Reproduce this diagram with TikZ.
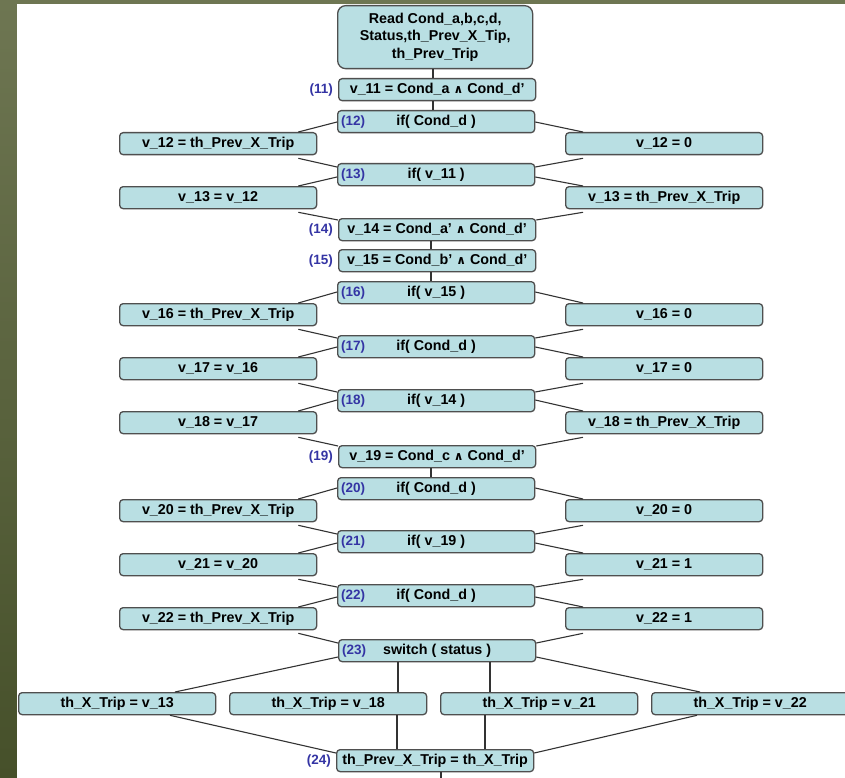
\documentclass[tikz,border=0pt]{standalone}
\usepackage{fontspec}
\setmainfont{Liberation Sans}
\newfontfamily\symf{DejaVu Sans}
\usetikzlibrary{calc}
\definecolor{oliveTop}{HTML}{6E7652}
\definecolor{oliveBot}{HTML}{46502A}
\definecolor{boxfill}{HTML}{B9DFE3}
\definecolor{boxline}{HTML}{4F4F4F}
\definecolor{numblue}{HTML}{3434A4}
\newcommand{\AND}{{\symf\bfseries\fontsize{12}{12}\selectfont ∧}}
% two branches leaving a decision box: parent, left child, right child, vertical offset
\newcommand{\branchout}[4]{%
  \draw[wire] ($(#1.north west)+(0,#4)$) -- ($(#2.north east)+(-19,0)$);
  \draw[wire] ($(#1.north east)+(0,#4)$) -- ($(#3.north west)+(18,0)$);}
% two branches joining into the next box: left child, right child, target, vertical offset
\newcommand{\branchin}[4]{%
  \draw[wire] ($(#1.south east)+(-19,3)$) -- ($(#3.north west)+(0,#4)$);
  \draw[wire] ($(#2.south west)+(18,3)$) -- ($(#3.north east)+(0,#4)$);}
\begin{document}
\begin{tikzpicture}[x=1pt,y=-1pt,
  blk/.style={draw=boxline, line width=1.3pt, fill=boxfill, rounded corners=3.5pt,
    minimum width=197pt, minimum height=22pt, inner sep=0pt, anchor=north west,
    font=\fontsize{14.3}{17.8}\selectfont\bfseries},
  num/.style={text=numblue, inner sep=0pt, font=\fontsize{13.5}{16}\selectfont\bfseries},
  wire/.style={draw=black!80, line width=1.1pt}]
\useasboundingbox (0,0) rectangle (845,778);
\shade[top color=oliveTop, bottom color=oliveBot] (0,0) rectangle (845,778);
\fill[white] (17,4) rectangle (845,778);

% main column
\node[blk, minimum width=195pt, minimum height=63pt, rounded corners=8pt, align=center] (read) at (337,5)
  {Read Cond\_a,b,c,d,\\Status,th\_Prev\_X\_Tip,\\th\_Prev\_Trip};
\node[blk] (n11) at (338,78) {v\_11 = Cond\_a \AND{} Cond\_d’};
\node[blk] (n12) at (337,110) {if( Cond\_d )};
\node[blk] (l12) at (119,132) {v\_12 = th\_Prev\_X\_Trip};
\node[blk] (r12) at (565,132) {v\_12 = 0};
\node[blk] (n13) at (337,163) {if( v\_11 )};
\node[blk] (l13) at (119,186) {v\_13 = v\_12};
\node[blk] (r13) at (565,186) {v\_13 = th\_Prev\_X\_Trip};
\node[blk] (n14) at (338,218) {v\_14 = Cond\_a’ \AND{} Cond\_d’};
\node[blk] (n15) at (338,249) {v\_15 = Cond\_b’ \AND{} Cond\_d’};
\node[blk] (n16) at (337,281) {if( v\_15 )};
\node[blk] (l16) at (119,303) {v\_16 = th\_Prev\_X\_Trip};
\node[blk] (r16) at (565,303) {v\_16 = 0};
\node[blk] (n17) at (337,335) {if( Cond\_d )};
\node[blk] (l17) at (119,357) {v\_17 = v\_16};
\node[blk] (r17) at (565,357) {v\_17 = 0};
\node[blk] (n18) at (337,389) {if( v\_14 )};
\node[blk] (l18) at (119,411) {v\_18 = v\_17};
\node[blk] (r18) at (565,411) {v\_18 = th\_Prev\_X\_Trip};
\node[blk] (n19) at (338,445) {v\_19 = Cond\_c \AND{} Cond\_d’};
\node[blk] (n20) at (337,477) {if( Cond\_d )};
\node[blk] (l20) at (119,499) {v\_20 = th\_Prev\_X\_Trip};
\node[blk] (r20) at (565,499) {v\_20 = 0};
\node[blk] (n21) at (337,530) {if( v\_19 )};
\node[blk] (l21) at (119,553) {v\_21 = v\_20};
\node[blk] (r21) at (565,553) {v\_21 = 1};
\node[blk] (n22) at (337,584) {if( Cond\_d )};
\node[blk] (l22) at (119,607) {v\_22 = th\_Prev\_X\_Trip};
\node[blk] (r22) at (565,607) {v\_22 = 1};
\node[blk] (n23) at (338,639) {switch ( status )};
\node[blk] (b1) at (18,692) {th\_X\_Trip = v\_13};
\node[blk] (b2) at (229,692) {th\_X\_Trip = v\_18};
\node[blk] (b3) at (440,692) {th\_X\_Trip = v\_21};
\node[blk] (b4) at (651,692) {th\_X\_Trip = v\_22};
\node[blk] (n24) at (336,749) {th\_Prev\_X\_Trip = th\_X\_Trip};

% step numbers
\foreach \s in {11,14,15,19,24}
  \node[num, anchor=east] at ($(n\s.west)+(-5,0)$) {(\s)};
\foreach \s in {12,13,16,17,18,20,21,22,23}
  \node[num, anchor=west] at ($(n\s.west)+(4,0)$) {(\s)};

% straight links
\draw[wire] ($(read.south west)+(96,0)$) -- ($(n11.north west)+(95,0)$);
\draw[wire] ($(n11.south west)+(95,0)$) -- ($(n12.north west)+(96,0)$);
\draw[wire] ($(n14.south west)+(93,0)$) -- ($(n15.north west)+(93,0)$);
\draw[wire] ($(n15.south west)+(93,0)$) -- ($(n16.north west)+(94,0)$);
\draw[wire] ($(n19.south west)+(93,0)$) -- ($(n20.north west)+(94,0)$);

% decision branches
\branchout{n12}{l12}{r12}{12} \branchin{l12}{r12}{n13}{4}
\branchout{n13}{l13}{r13}{14} \branchin{l13}{r13}{n14}{2}
\branchout{n16}{l16}{r16}{11} \branchin{l16}{r16}{n17}{3}
\branchout{n17}{l17}{r17}{12} \branchin{l17}{r17}{n18}{3}
\branchout{n18}{l18}{r18}{11} \branchin{l18}{r18}{n19}{1}
\branchout{n20}{l20}{r20}{11} \branchin{l20}{r20}{n21}{4}
\branchout{n21}{l21}{r21}{13} \branchin{l21}{r21}{n22}{3}
\branchout{n22}{l22}{r22}{13} \branchin{l22}{r22}{n23}{4}

% switch cases
\draw[wire] ($(n23.north west)+(0,18)$) -- ($(b1.north west)+(157,0)$);
\draw[wire] ($(n23.south west)+(60,0)$) -- ($(b2.north west)+(169,0)$);
\draw[wire] ($(n23.south west)+(152,0)$) -- ($(b3.north west)+(50,0)$);
\draw[wire] ($(n23.north east)+(0,18)$) -- ($(b4.north west)+(49,0)$);
\draw[wire] ($(b1.south west)+(152,0)$) -- ($(n24.north west)+(0,4)$);
\draw[wire] ($(b2.south west)+(168,0)$) -- ($(n24.north west)+(61,0)$);
\draw[wire] ($(b3.south west)+(45,0)$) -- ($(n24.north west)+(149,0)$);
\draw[wire] ($(b4.south west)+(46,0)$) -- ($(n24.north east)+(0,4)$);
\coordinate (exit) at (441,790);
\draw[wire] (exit |- n24.south) -- (exit);
\end{tikzpicture}
\end{document}
